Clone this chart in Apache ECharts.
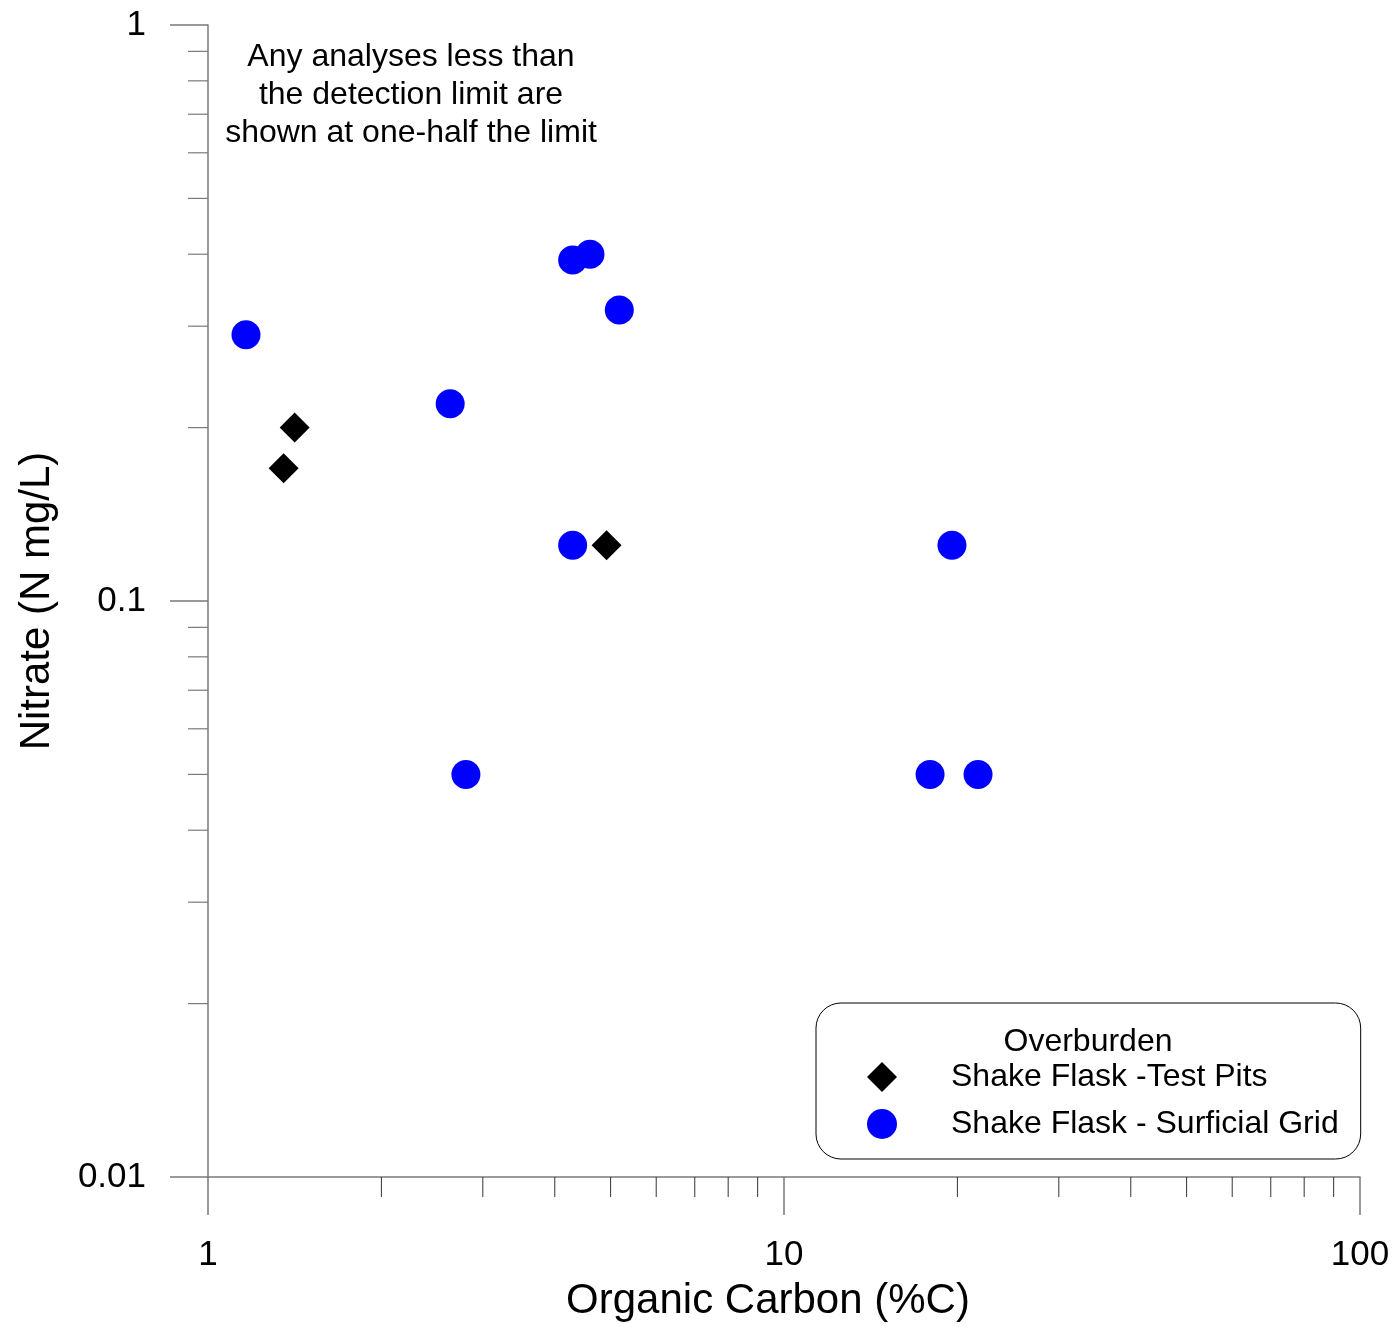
<!DOCTYPE html>
<html>
<head>
<meta charset="utf-8">
<script src="https://cdn.jsdelivr.net/npm/echarts@6/dist/echarts.min.js"></script>
<style>html,body{margin:0;padding:0;background:#fff}#c{width:1399px;height:1327px}</style>
</head>
<body>
<div id="c"></div>
<script>
// ---- data ----
const testPitsX = [1.353, 1.414, 4.92];
const testPitsY = [0.170, 0.200, 0.125];
const gridX = [1.164, 2.633, 4.296, 4.604, 5.177, 4.296, 2.804, 19.57, 17.93, 21.72];
const gridY = [0.290, 0.220, 0.391, 0.400, 0.320, 0.125, 0.050, 0.125, 0.050, 0.050];
const xMinorTicks = [2, 3, 4, 5, 6, 7, 8, 9, 20, 30, 40, 50, 60, 70, 80, 90];
const yMinorTicks = [0.02, 0.03, 0.04, 0.05, 0.06, 0.07, 0.08, 0.09, 0.2, 0.3, 0.4, 0.5, 0.6, 0.7, 0.8, 0.9];
const seriesNames = ['Shake Flask -Test Pits', 'Shake Flask - Surficial Grid'];
const noteLines = ['Any analyses less than', 'the detection limit are', 'shown at one-half the limit'];
const legendTitle = 'Overburden';
const xName = 'Organic Carbon (%C)';
const yName = 'Nitrate (N mg/L)';

const FONT = 'Liberation Sans, Arial, Helvetica, sans-serif';
const AX = '#7a7a7a';
const chart = echarts.init(document.getElementById('c'), null, {renderer: 'canvas'});
const fmt = v => String(parseFloat(Number(v).toPrecision(6)));

const pts = (xs, ys) => xs.map((x, i) => [x, ys[i]]);

chart.setOption({
  animation: false,
  backgroundColor: '#ffffff',
  grid: {left: 208, right: 39, top: 25, bottom: 150, containLabel: false},
  xAxis: {
    type: 'log', logBase: 10, min: 1, max: 100,
    name: xName, nameLocation: 'middle', nameGap: 103,
    nameTextStyle: {fontFamily: FONT, fontSize: 42, color: '#000', padding: [0, 32, 0, 0]},
    axisLine: {show: true, lineStyle: {color: AX, width: 1.5}},
    axisTick: {show: true, inside: false, length: 38, lineStyle: {color: AX, width: 1.5}},
    axisLabel: {fontFamily: FONT, fontSize: 35, color: '#000', margin: 61, formatter: fmt},
    splitLine: {show: false}, minorTick: {show: false}
  },
  yAxis: {
    type: 'log', logBase: 10, min: 0.01, max: 1,
    name: yName, nameLocation: 'middle', nameGap: 150, nameRotate: 90,
    nameTextStyle: {fontFamily: FONT, fontSize: 42, color: '#000'},
    axisLine: {show: true, lineStyle: {color: AX, width: 1.5}},
    axisTick: {show: true, inside: false, length: 38, lineStyle: {color: AX, width: 1.5}},
    axisLabel: {fontFamily: FONT, fontSize: 35, color: '#000', margin: 62, formatter: fmt,
                padding: [4, 0, 0, 0]},
    splitLine: {show: false}, minorTick: {show: false}
  },
  legend: {
    data: seriesNames,
    orient: 'vertical',
    left: 816, top: 1003,
    padding: [58, 22, 19, 51],
    itemGap: 15, itemWidth: 30, itemHeight: 30,
    borderColor: '#000', borderWidth: 1, borderRadius: 25,
    textStyle: {fontFamily: FONT, fontSize: 32, color: '#000', padding: [0, 0, 0, 49]},
    selectedMode: false
  },
  graphic: [
    {
      type: 'text', x: 411, y: 38, silent: true,
      style: {text: noteLines.join('\n'), font: '32px ' + FONT, fill: '#000', align: 'center', lineHeight: 38}
    },
    {
      type: 'text', x: 1088, y: 1026, silent: true,
      style: {text: legendTitle, font: '32px ' + FONT, fill: '#000', align: 'center'}
    }
  ],
  series: [
    {
      name: seriesNames[0], type: 'scatter', symbol: 'diamond', symbolSize: 30,
      itemStyle: {color: '#000000', opacity: 1}, data: pts(testPitsX, testPitsY), z: 3
    },
    {
      name: seriesNames[1], type: 'scatter', symbol: 'circle', symbolSize: 29,
      itemStyle: {color: '#0000ff', opacity: 1}, data: pts(gridX, gridY), z: 2
    },
    {
      type: 'custom', name: 'xminor', clip: false, silent: true, z: 1,
      data: xMinorTicks.map(v => [v, 0.01]),
      renderItem: (params, api) => {
        const p = api.coord([api.value(0), api.value(1)]);
        return {type: 'line', shape: {x1: p[0], y1: p[1], x2: p[0], y2: p[1] + 20},
                style: {stroke: '#333', lineWidth: 1}};
      }
    },
    {
      type: 'custom', name: 'yminor', clip: false, silent: true, z: 1,
      data: yMinorTicks.map(v => [1, v]),
      renderItem: (params, api) => {
        const p = api.coord([api.value(0), api.value(1)]);
        return {type: 'line', shape: {x1: p[0] - 20, y1: p[1], x2: p[0], y2: p[1]},
                style: {stroke: AX, lineWidth: 1.2}};
      }
    }
  ]
});
</script>
</body>
</html>
